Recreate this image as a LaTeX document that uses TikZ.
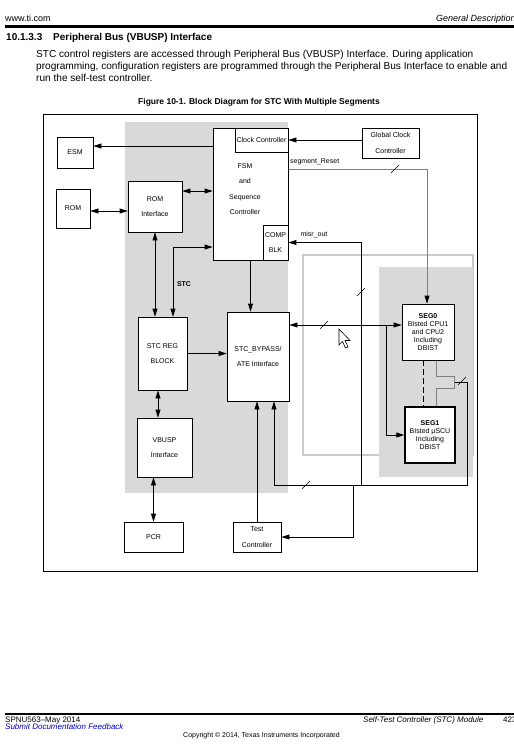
\documentclass[tikz,border=0pt]{standalone}
\usepackage{fontspec}
\setmainfont{Liberation Sans}
\usepackage{xcolor}
\usetikzlibrary{arrows.meta}
\usetikzlibrary{backgrounds}
\pgfdeclarelayer{edgelayer}
\pgfdeclarelayer{nodelayer}
\pgfsetlayers{background,edgelayer,nodelayer,main}
\definecolor{panelgrey}{RGB}{217,217,217}
\definecolor{rimgrey}{RGB}{202,202,202}
\definecolor{tiblue}{RGB}{0,0,204}
\tikzstyle{blk}=[draw=black,fill=white,line width=0.8pt,inner sep=0pt,align=center,font=\fontsize{7}{15.5}\selectfont]
\tikzstyle{seg}=[blk,font=\fontsize{7}{8.2}\selectfont]
\tikzstyle{txt}=[inner sep=0mm,align=center,font=\fontsize{7}{15.5}\selectfont]
\tikzstyle{lbl}=[inner sep=0mm,font=\fontsize{7}{8}\selectfont]
\tikzstyle{pagetext}=[inner sep=0mm,anchor=base west]
\tikzstyle{wire}=[line width=0.8pt]
\tikzstyle{greywire}=[line width=0.8pt,draw=gray]
\tikzstyle{arr}=[wire,-{Triangle[length=8pt,width=5pt,color=black]}]
\tikzstyle{dblarr}=[wire,{Triangle[length=8pt,width=5pt]}-{Triangle[length=8pt,width=5pt]}]
\newcommand{\busmark}[1]{\draw[line width=0.6pt] ([shift={(-4,4)}]#1) -- ([shift={(4,-4)}]#1);}

\begin{document}
\begin{tikzpicture}[x=1pt,y=-1pt]
	\useasboundingbox (0,0) rectangle (514,750);
	\begin{pgfonlayer}{background}
		\fill[white] (0,0) rectangle (514,750);
		\fill[panelgrey] (125,122) rectangle (288,493);
		\draw[rimgrey, line width=1.5pt] (303,255) rectangle (473,455);
		\fill[panelgrey] (379,267) rectangle (473,477);
	\end{pgfonlayer}
	% page text
	\node [style=pagetext, font=\fontsize{9}{11}\selectfont] (site) at (5,21) {www.ti.com};
	\node [style=pagetext, font=\fontsize{9}{11}\selectfont\itshape] (chap) at (436,21) {General Description};
	\draw[line width=2.5pt] (5,26.7) -- (514,26.7);
	\node [style=pagetext, font=\fontsize{10}{12}\selectfont\bfseries] (secno) at (6,40.5) {10.1.3.3};
	\node [style=pagetext, font=\fontsize{10}{12}\selectfont\bfseries] (sectitle) at (53,40.5) {Peripheral Bus (VBUSP) Interface};
	\node [style=pagetext, font=\fontsize{10.1}{12}\selectfont] (para1) at (36,57) {STC control registers are accessed through Peripheral Bus (VBUSP) Interface. During application};
	\node [style=pagetext, font=\fontsize{10.1}{12}\selectfont] (para2) at (36,69) {programming, configuration registers are programmed through the Peripheral Bus Interface to enable and};
	\node [style=pagetext, font=\fontsize{10.1}{12}\selectfont] (para3) at (36,81) {run the self-test controller.};
	\node [inner sep=0mm, anchor=base, font=\fontsize{8.5}{10}\selectfont\bfseries] (caption) at (259,104) {Figure 10-1. Block Diagram for STC With Multiple Segments};
	% figure frame
	\draw[line width=0.8pt] (43,114) rectangle (477,571);
	\begin{pgfonlayer}{nodelayer}
		\node [style=blk, minimum width=36pt, minimum height=31pt] (esm) at (75,152.5) {ESM};
		\node [style=blk, minimum width=34pt, minimum height=39pt] (rom) at (73,208.5) {ROM};
		\node [style=blk, minimum width=54pt, minimum height=51pt] (romif) at (155,206.5) {ROM\\Interface};
		\node [style=blk, minimum width=75pt, minimum height=132pt] (fsm) at (250.5,194) {};
		\node [style=txt] (fsmtxt) at (245,189) {FSM\\and\\Sequence\\Controller};
		\node [style=blk, minimum width=53pt, minimum height=24pt] (clk) at (261.5,140) {Clock Controller};
		\node [style=blk, minimum width=25pt, minimum height=35pt] (comp) at (275.5,242.5) {COMP\\BLK};
		\node [style=blk, minimum width=57pt, minimum height=30pt] (gcc) at (390.5,143) {Global Clock\\Controller};
		\node [style=blk, minimum width=49pt, minimum height=73pt] (stcreg) at (162.5,353.5) {STC REG\\BLOCK};
		\node [style=blk, minimum width=62pt, minimum height=89pt] (bypass) at (258,356.5) {STC\_BYPASS/\\ATE Interface};
		\node [style=blk, minimum width=55pt, minimum height=59pt] (vbusp) at (164.5,447.5) {VBUSP\\Interface};
		\node [style=blk, minimum width=59pt, minimum height=30pt] (pcr) at (153.5,537) {PCR};
		\node [style=blk, minimum width=48pt, minimum height=30pt] (test) at (257,537) {Test\\Controller};
		\node [style=seg, minimum width=52pt, minimum height=56pt] (seg0) at (428,332) {\textbf{SEG0}\\BIsted CPU1\\and CPU2\\Including\\DBIST};
		\node [style=seg, line width=1.4pt, minimum width=50pt, minimum height=56pt] (seg1) at (430,435) {\textbf{SEG1}\\BIsted μSCU\\Including\\DBIST};
		\node [style=lbl, anchor=west] (rstlbl) at (290,162) {segment\_Reset};
		\node [style=lbl] (misrlbl) at (314,235) {misr\_out};
		\node [style=lbl, font=\fontsize{7}{8}\selectfont\bfseries] (stclbl) at (184,284) {STC};
	\end{pgfonlayer}
	\begin{pgfonlayer}{edgelayer}
		\coordinate (yesm) at (0,146);
		\coordinate (yrom) at (0,211);
		\coordinate (yfsm) at (0,191);
		\coordinate (stcbend) at (173,247);
		\coordinate (xvb) at (158,0);
		\coordinate (rst) at (427,169);
		\coordinate (ybus) at (0,325);
		\coordinate (br) at (386,325);
		\coordinate (misr) at (361,485);
		\coordinate (tfeed) at (353,485);
		\coordinate (fb1) at (454,382);
		\coordinate (fb2) at (467,382);
		\coordinate (fb3) at (467,485);
		\coordinate (fb4) at (274,485);
		\coordinate (xdash) at (423,0);
		\coordinate (xgrey) at (436,0);
		\coordinate (gtop) at (454,376);
		\coordinate (gbot) at (454,388);
		\draw [style=arr] (gcc.west |- clk.east) to (clk.east);
		\draw [style=arr] (fsm.west |- yesm) to (esm.east |- yesm);
		\draw [style=dblarr] (rom.east |- yrom) to (romif.west |- yrom);
		\draw [style=dblarr] (romif.east |- yfsm) to (fsm.west |- yfsm);
		\draw [style=dblarr] (romif.south) to (romif.south |- stcreg.north);
		\draw [style=dblarr] (fsm.west |- stcbend) -- (stcbend) -- (stcbend |- stcreg.north);
		\draw [style=arr] (fsm.south) to (fsm.south |- bypass.north);
		\draw [style=arr] (stcreg.east) to (stcreg.east -| bypass.west);
		\draw [style=dblarr] (stcreg.south -| xvb) to (vbusp.north -| xvb);
		\draw [style=dblarr] (vbusp.south -| pcr.north) to (pcr.north);
		\draw [style=arr] (test.north) to (test.north |- bypass.south);
		\draw [style=arr] (fb1) -- (fb2) -- (fb3) -- (fb4) -- (fb4 |- bypass.south);
		\draw [style=arr] (misr) |- (comp.east);
		\draw [style=arr] (tfeed) |- (test.east);
		\draw [style=arr, draw=gray] (fsm.east |- rst) -- (rst) -- (rst |- seg0.north);
		\draw [style=dblarr] (bypass.east |- ybus) to (seg0.west |- ybus);
		\draw [style=arr] (br) |- (seg1.west);
		\draw [style=wire, dash pattern=on 6pt off 3pt] (seg0.south -| xdash) to (seg1.north -| xdash);
		\draw [style=greywire] (seg0.south -| xgrey) |- (gtop) -- (gbot) -| (seg1.north -| xgrey);
		\busmark{395,169}
		\busmark{361,292}
		\busmark{324,325}
		\busmark{306,485}
		\busmark{462,381}
	\end{pgfonlayer}
	% pointer
	\draw[line width=0.6pt, fill=white] (339,329) -- ++(0,16) -- ++(3.5,-3.5) -- ++(3,6.5) -- ++(2.5,-1.2) -- ++(-3,-6.3) -- ++(5,0) -- cycle;
	% footer
	\draw[line width=2.5pt] (5,714) -- (514,714);
	\node [style=pagetext, font=\fontsize{8}{10}\selectfont] (docid) at (5,722) {SPNU563--May 2014};
	\node [style=pagetext, font=\fontsize{8}{10}\selectfont\itshape, text=tiblue] (feedback) at (5,729.5) {Submit Documentation Feedback};
	\node [style=pagetext, font=\fontsize{8}{10}\selectfont\itshape] (module) at (363,722) {Self-Test Controller (STC) Module};
	\node [style=pagetext, font=\fontsize{8}{10}\selectfont] (pageno) at (503,722) {423};
	\node [inner sep=0mm, anchor=base, font=\fontsize{7}{9}\selectfont] (copyright) at (261.5,737.5) {Copyright \textcopyright\ 2014, Texas Instruments Incorporated};
\end{tikzpicture}
\end{document}
